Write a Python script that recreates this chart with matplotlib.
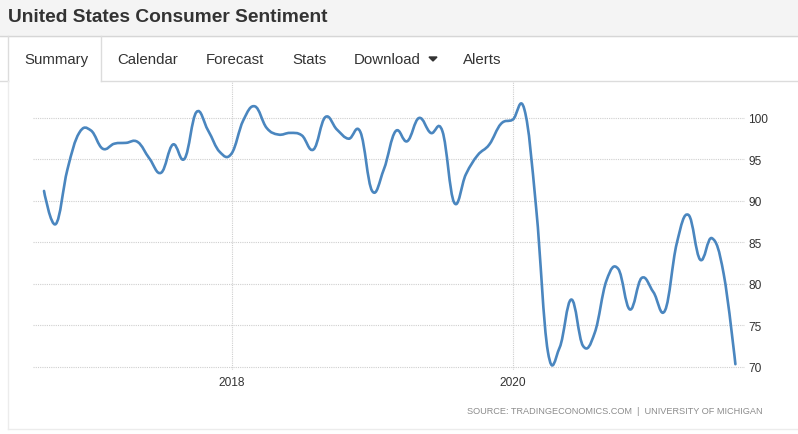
import matplotlib
matplotlib.use("Agg")
import matplotlib.pyplot as plt
import numpy as np
from matplotlib.path import Path
from matplotlib.patches import PathPatch, Rectangle, Polygon
from matplotlib.lines import Line2D

plt.rcParams['font.family'] = ['Liberation Sans', 'DejaVu Sans']

# monthly index, Sep 2016 .. Aug 2021
start_year, start_month = 2016, 9
sentiment = [91.2, 87.2, 93.8, 98.2,
             98.5, 96.3, 96.9, 97.0, 97.1, 95.1, 93.4, 96.8, 95.1, 100.7, 98.5, 95.9,
             95.7, 99.7, 101.4, 98.8, 98.0, 98.2, 97.9, 96.2, 100.1, 98.6, 97.5, 98.3,
             91.2, 93.8, 98.4, 97.2, 100.0, 98.2, 98.4, 89.8, 93.2, 95.5, 96.8, 99.3,
             99.8, 101.0, 89.1, 71.8, 72.3, 78.1, 72.5, 74.1, 80.4, 81.8, 76.9, 80.7,
             79.0, 76.8, 84.9, 88.3, 82.9, 85.5, 81.2, 70.3]
tick_years = [2018, 2020]
y_ticks = [70, 75, 80, 85, 90, 95, 100]
tabs = ["Summary", "Calendar", "Forecast", "Stats", "Download", "Alerts"]
tab_x = [24, 117, 206, 292, 354, 463]

W, H = 798, 435
fx = lambda px: px / W
fy = lambda py: 1 - py / H


def spline_path(x, y, smoothing=1.5):
    # highcharts style spline control points
    n = len(x)
    lcx, lcy = np.array(x, float), np.array(y, float)
    rcx, rcy = lcx.copy(), lcy.copy()
    d = smoothing + 1
    for i in range(1, n - 1):
        lx = (smoothing * x[i] + x[i - 1]) / d
        ly = (smoothing * y[i] + y[i - 1]) / d
        rx = (smoothing * x[i] + x[i + 1]) / d
        ry = (smoothing * y[i] + y[i + 1]) / d
        corr = (ry - ly) * (rx - x[i]) / (rx - lx) + y[i] - ry
        lcx[i], lcy[i], rcx[i], rcy[i] = lx, ly + corr, rx, ry + corr
    verts = [(x[0], y[0])]
    codes = [Path.MOVETO]
    for i in range(1, n):
        verts += [(rcx[i - 1], rcy[i - 1]), (lcx[i], lcy[i]), (x[i], y[i])]
        codes += [Path.CURVE4] * 3
    return Path(verts, codes)


fig = plt.figure(figsize=(W / 100, H / 100), dpi=100)

# page header and tabs
fig.patches.append(Rectangle((0, fy(37)), 1, 37 / H, transform=fig.transFigure,
                             color='#f4f4f4', zorder=0))
for (x0, y0, x1, y1, c) in [(0, 37, W, 37, '#d6d6d6'),
                            (0, 82, 8, 82, '#dcdcdc'), (101, 82, W, 82, '#dcdcdc'),
                            (8, 37, 8, 82, '#dcdcdc'), (101, 37, 101, 82, '#dcdcdc'),
                            (8, 82, 8, 430, '#ececec'), (8, 430, W, 430, '#ececec')]:
    fig.lines.append(Line2D([fx(x0), fx(x1)], [fy(y0), fy(y1)], transform=fig.transFigure,
                            color=c, linewidth=1))
fig.text(fx(8), fy(17), "United States Consumer Sentiment", fontsize=13.8,
         fontweight='bold', color='#333333', va='center', ha='left')
for name, px in zip(tabs, tab_x):
    fig.text(fx(px), fy(60), name, fontsize=10.8, color='#333333', va='center', ha='left')
fig.patches.append(Polygon([(fx(429), fy(58)), (fx(437), fy(58)), (fx(433), fy(62))],
                           closed=True, transform=fig.transFigure, color='#333333'))

ax = fig.add_axes([fx(33), fy(371), fx(745) - fx(33), (371 - 83) / H])
x = np.arange(len(sentiment))
ax.add_patch(PathPatch(spline_path(x, sentiment), fill=False, edgecolor='#4a86bf',
                       linewidth=1.9, capstyle='round', joinstyle='round', zorder=3))

ax.set_xlim(-0.94, 59.82)
ax.set_ylim(69.6, 104.34)
ax.set_yticks(y_ticks)
ax.yaxis.tick_right()
xt = [(yr - start_year) * 12 + 1 - start_month for yr in tick_years]
ax.set_xticks(xt)
ax.set_xticklabels([str(yr) for yr in tick_years])
ax.tick_params(length=0, labelsize=8.6, labelcolor='#333333')
ax.tick_params(axis='y', pad=2.5)
ax.tick_params(axis='x', pad=4)
ax.grid(True, color='#cfcfcf', linestyle=(0, (1, 1)), linewidth=0.8)
for s in ax.spines.values():
    s.set_visible(False)

fig.text(fx(763), fy(412), "SOURCE: TRADINGECONOMICS.COM  |  UNIVERSITY OF MICHIGAN",
         fontsize=6.6, color='#8c8c8c', ha='right', va='center')

fig.savefig("out.png", dpi=100)
